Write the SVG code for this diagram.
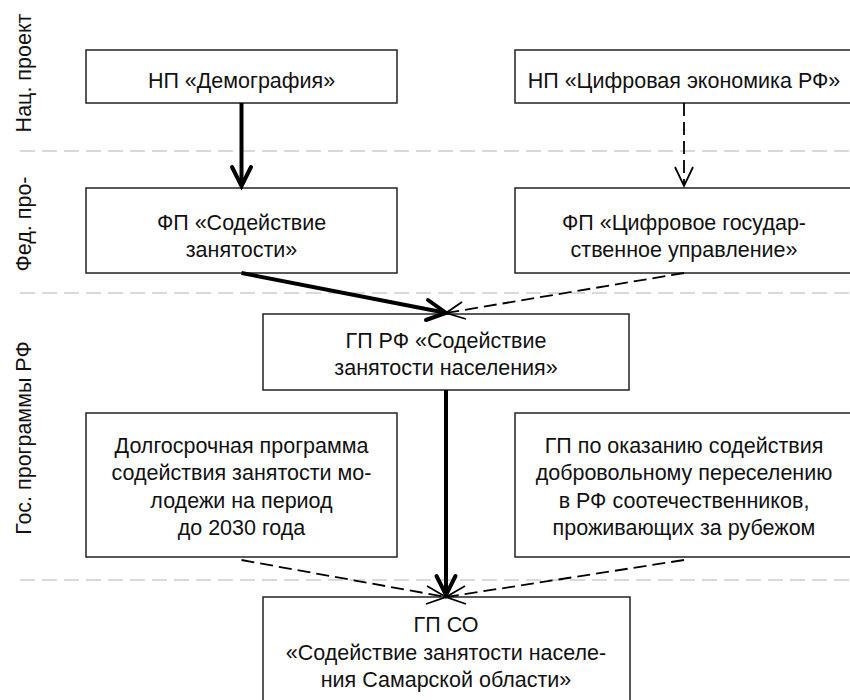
<svg xmlns="http://www.w3.org/2000/svg" width="850" height="700" viewBox="0 0 850 700">
<style>
.bg{fill:#ffffff}
.box{fill:#ffffff;stroke:#222222;stroke-width:1.5}
.t{font-family:"Liberation Sans","Arial",sans-serif;font-size:21.5px;fill:#111111;text-anchor:middle}
.side{font-family:"Liberation Sans","Arial",sans-serif;font-size:21.5px;fill:#111111;text-anchor:middle}
.sep{stroke:#d9d9d9;stroke-width:2.2;stroke-dasharray:15 7;fill:none}
.thick{stroke:#000000;stroke-width:4;fill:none}
.thin{stroke:#000000;stroke-width:1.8;fill:none;stroke-dasharray:13 6}
.headThick{stroke:#000000;stroke-width:4;fill:none;stroke-linecap:round}
.headThin{stroke:#000000;stroke-width:1.8;fill:none}
</style>
<rect class="bg" x="0" y="0" width="850" height="700"/>
<g id="separators">
<line class="sep" x1="20" y1="151" x2="850" y2="151"/>
<line class="sep" x1="20" y1="293" x2="850" y2="293"/>
<line class="sep" x1="20" y1="580" x2="850" y2="580"/>
</g>
<g id="lane-labels">
<text class="side" transform="translate(31,73) rotate(-90)">Нац. проект</text>
<text class="side" transform="translate(31,224) rotate(-90)">Фед. про-</text>
<text class="side" transform="translate(31,438) rotate(-90)">Гос. программы РФ</text>
</g>
<g id="node-np-demography">
<rect class="box" x="86" y="50" width="311" height="53"/>
<text class="t" x="241.5" y="88">НП «Демография»</text>
</g>
<g id="node-np-digital">
<rect class="box" x="515" y="50" width="340" height="53"/>
<text class="t" x="684" y="88">НП «Цифровая экономика РФ»</text>
</g>
<g id="node-fp-employment">
<rect class="box" x="86" y="188" width="311" height="85"/>
<text class="t" x="241.5" y="230">ФП «Содействие</text>
<text class="t" x="241.5" y="257">занятости»</text>
</g>
<g id="node-fp-digital-gov">
<rect class="box" x="515" y="188" width="340" height="85"/>
<text class="t" x="684" y="230">ФП «Цифровое государ-</text>
<text class="t" x="684" y="257">ственное управление»</text>
</g>
<g id="node-gp-rf">
<rect class="box" x="263" y="314" width="366" height="76"/>
<text class="t" x="446" y="348">ГП РФ «Содействие</text>
<text class="t" x="446" y="375">занятости населения»</text>
</g>
<g id="node-youth">
<rect class="box" x="86" y="413" width="311" height="144"/>
<text class="t" x="241.5" y="453">Долгосрочная программа</text>
<text class="t" x="241.5" y="480">содействия занятости мо-</text>
<text class="t" x="241.5" y="508">лодежи на период</text>
<text class="t" x="241.5" y="535">до 2030 года</text>
</g>
<g id="node-resettlement">
<rect class="box" x="515" y="413" width="340" height="144"/>
<text class="t" x="684" y="453">ГП по оказанию содействия</text>
<text class="t" x="684" y="480">добровольному переселению</text>
<text class="t" x="684" y="508">в РФ соотечественников,</text>
<text class="t" x="684" y="535">проживающих за рубежом</text>
</g>
<g id="node-gp-so">
<rect class="box" x="263" y="597" width="367" height="110"/>
<text class="t" x="446" y="632">ГП СО</text>
<text class="t" x="446" y="660">«Содействие занятости населе-</text>
<text class="t" x="446" y="687">ния Самарской области»</text>
</g>
<g id="connectors">
<line class="thick" x1="241.5" y1="103" x2="241.5" y2="185"/>
<polyline class="headThick" points="232,167 241.5,186 251,167"/>
<line class="thin" x1="684" y1="103" x2="684" y2="186"/>
<polyline class="headThin" points="675,167 684,186 693,167"/>
<line class="thick" x1="241.5" y1="273" x2="444" y2="312.5"/>
<polyline class="headThick" points="428,300 446,313 426,320"/>
<line class="thin" x1="684" y1="273" x2="446" y2="313"/>
<polyline class="headThin" points="462,302 446,313 466,319"/>
<line class="thick" x1="446" y1="390" x2="446" y2="594"/>
<polyline class="headThick" points="436.5,576 446,595 455.5,576"/>
<line class="thin" x1="241.5" y1="560" x2="446" y2="597"/>
<polyline class="headThin" points="427,586 446,597 426,604"/>
<line class="thin" x1="684" y1="560" x2="446" y2="597"/>
<polyline class="headThin" points="465,586 446,597 466,604"/>
</g>
</svg>
